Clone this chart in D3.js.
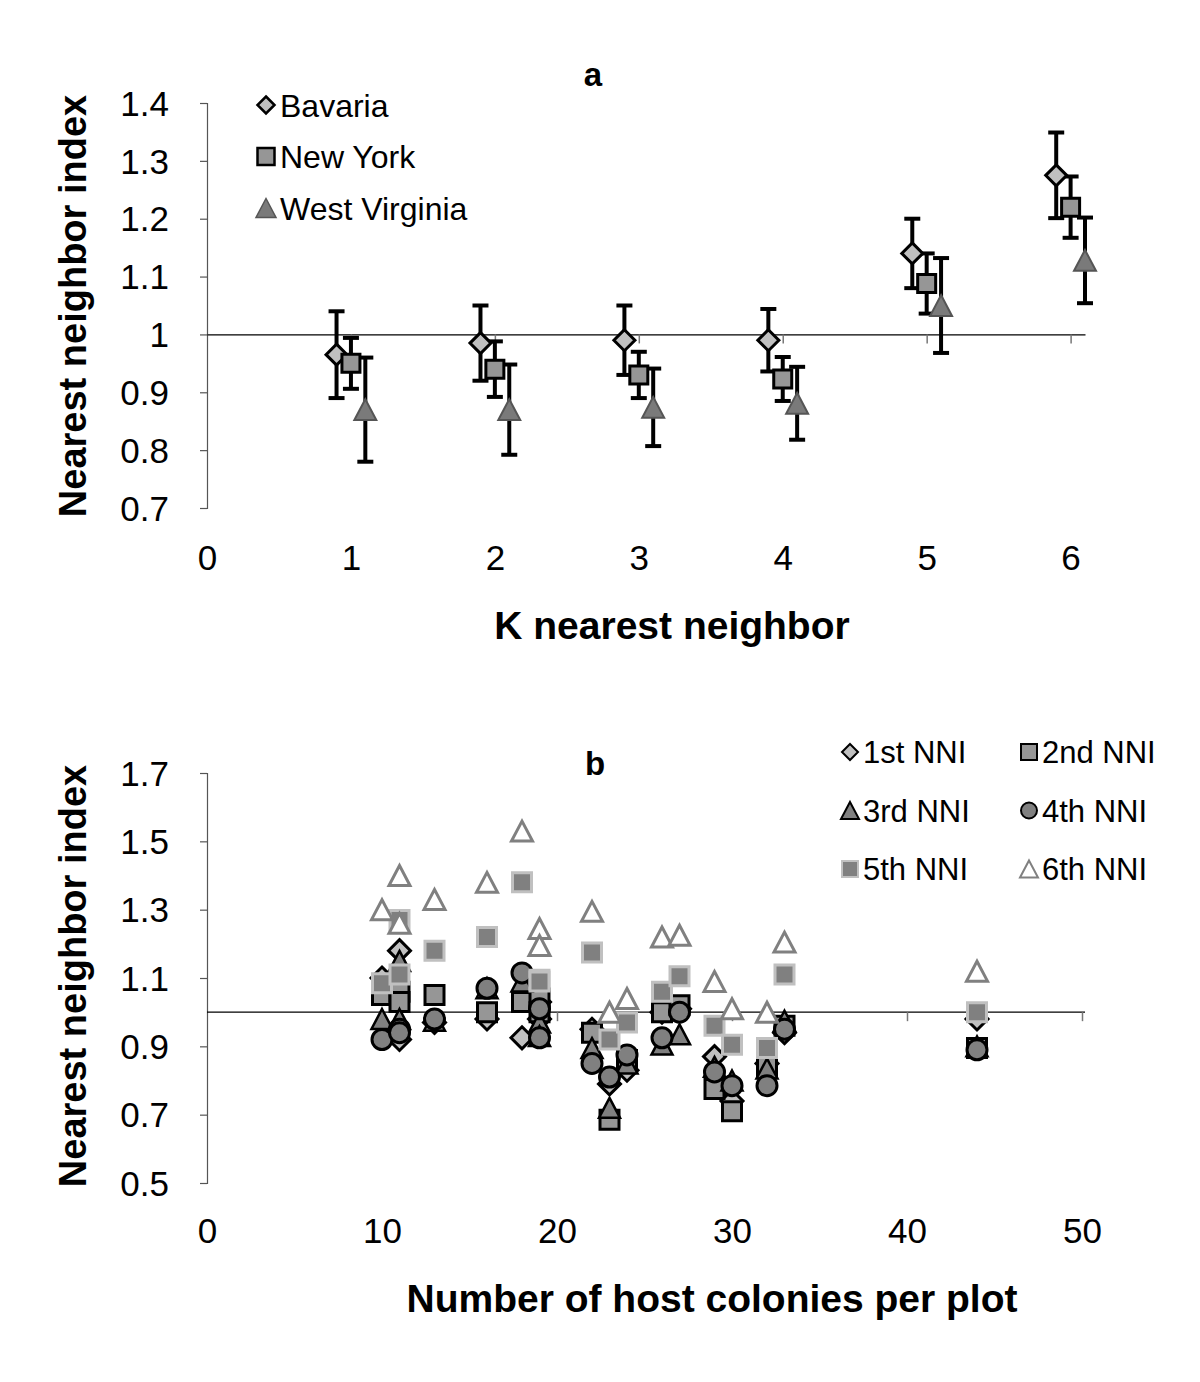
<!DOCTYPE html>
<html><head><meta charset="utf-8">
<script src="https://cdn.jsdelivr.net/npm/d3@7"></script>
<style>body{margin:0;background:#fff}svg{display:block}text{font-family:"Liberation Sans",Arial,sans-serif}</style>
</head><body>
<svg id="c" width="1200" height="1382"></svg>
<script>
// ---------- Panel a data ----------
const kValues = [1, 2, 3, 4, 5, 6];
const regionNames = ["Bavaria", "New York", "West Virginia"];
const regionOffsets = [-0.1, 0, 0.1];
const bavariaMean = [0.965, 0.985, 0.99, 0.99, 1.14, 1.275];
const bavariaErr  = [0.075, 0.065, 0.06, 0.054, 0.06, 0.074];
const newYorkMean = [0.95, 0.94, 0.93, 0.923, 1.088, 1.22];
const newYorkErr  = [0.044, 0.048, 0.04, 0.038, 0.052, 0.053];
const westVirginiaMean = [0.87, 0.87, 0.874, 0.881, 1.05, 1.128];
const westVirginiaErr  = [0.09, 0.078, 0.067, 0.063, 0.082, 0.074];
const aXTicks = [0, 1, 2, 3, 4, 5, 6];
const aYTicks = [0.7, 0.8, 0.9, 1.0, 1.1, 1.2, 1.3, 1.4];

// ---------- Panel b data ----------
const hostColonies = [10, 11, 11, 13, 16, 18, 19, 19, 22, 23, 24, 26, 27, 29, 30, 32, 33, 44];
const nniNames = ["1st NNI", "2nd NNI", "3rd NNI", "4th NNI", "5th NNI", "6th NNI"];
const nni1 = [1.10, 1.18, 0.92, 0.97, 0.98, 0.925, 1.03, 0.98, 0.95, 0.79, 0.83, 1.00, 1.01, 0.87, 0.74, 0.85, 0.94, 0.98];
const nni2 = [1.05, 1.06, 1.03, 1.05, 1.00, 1.03, 1.04, 1.00, 0.94, 0.685, 0.86, 1.00, 1.02, 0.775, 0.71, 0.84, 0.96, 0.895];
const nni3 = [0.98, 1.15, 0.98, 0.975, 1.07, 1.09, 0.97, 0.93, 0.895, 0.72, 0.85, 0.905, 0.935, 0.84, 0.80, 0.835, 0.975, 0.90];
const nni4 = [0.92, 0.95, 0.94, 0.98, 1.07, 1.115, 0.925, 1.01, 0.85, 0.81, 0.875, 0.925, 1.00, 0.825, 0.785, 0.785, 0.95, 0.89];
const nni5 = [1.085, 1.27, 1.11, 1.18, 1.22, 1.38, 1.095, 1.09, 1.175, 0.92, 0.97, 1.06, 1.105, 0.96, 0.905, 0.895, 1.11, 1.00];
const nni6 = [1.30, 1.40, 1.26, 1.33, 1.38, 1.53, 1.245, 1.195, 1.295, 1.00, 1.04, 1.22, 1.225, 1.09, 1.01, 1.00, 1.205, 1.12];
const bXTicks = [0, 10, 20, 30, 40, 50];
const bYTicks = [0.5, 0.7, 0.9, 1.1, 1.3, 1.5, 1.7];

// ---------- helpers ----------
const svg = d3.select("#c");
function shapePath(type, s) {
  const h = s / 2;
  if (type === "diamond") return `M0,${-h}L${h},0L0,${h}L${-h},0Z`;
  if (type === "square") return `M${-h},${-h}H${h}V${h}H${-h}Z`;
  if (type === "triangle") { const t = h * 0.95; return `M0,${-t}L${h},${t}L${-h},${t}Z`; }
  if (type === "circle") return `M${h},0A${h},${h} 0 1,1 ${-h},0A${h},${h} 0 1,1 ${h},0Z`;
}
function styleAxis(g) {
  g.selectAll("path.domain").attr("stroke", "#555").attr("stroke-width", 1.2);
  g.selectAll(".tick line").attr("stroke", "#555").attr("stroke-width", 1.2);
  g.selectAll("text").attr("font-size", 35).attr("fill", "#000").attr("font-family", "Liberation Sans, Arial, sans-serif");
}

// ================= Panel a =================
const xa = d3.scaleLinear().domain([0, 6.1]).range([207, 1085]);
const ya = d3.scaleLinear().domain([0.7, 1.4]).range([508, 103]);

const gaY = svg.append("g").attr("transform", `translate(${xa(0)},0)`)
  .call(d3.axisLeft(ya).tickValues(aYTicks).tickSize(7).tickPadding(31)
    .tickFormat(d => d === 1 ? "1" : d3.format(".1f")(d)));
styleAxis(gaY);
gaY.selectAll("text").attr("dy", "0.35em");

const gaRef = svg.append("g").attr("transform", `translate(0,${ya(1)})`)
  .call(d3.axisBottom(xa).tickValues(kValues).tickSize(9).tickFormat("").tickSizeOuter(0));
gaRef.selectAll("path.domain").attr("stroke", "#000").attr("stroke-width", 1.2);
gaRef.selectAll(".tick line").attr("stroke", "#777").attr("stroke-width", 1.5);

const gaX = svg.append("g").attr("transform", `translate(0,557)`)
  .call(d3.axisBottom(xa).tickValues(aXTicks).tickSize(0).tickPadding(0).tickFormat(d3.format("d")));
gaX.select("path.domain").remove();
styleAxis(gaX);
gaX.selectAll("text").attr("dy", "0.36em");

const regions = [
  {name: regionNames[0], mean: bavariaMean, err: bavariaErr, off: regionOffsets[0], shape: "diamond", size: 21, fill: "#c0c0c0", stroke: "#000", sw: 3},
  {name: regionNames[1], mean: newYorkMean, err: newYorkErr, off: regionOffsets[1], shape: "square", size: 18, fill: "#969696", stroke: "#000", sw: 3},
  {name: regionNames[2], mean: westVirginiaMean, err: westVirginiaErr, off: regionOffsets[2], shape: "triangle", size: 22, fill: "#7a7a7a", stroke: "#555", sw: 2}
];

regions.forEach(r => {
  const g = svg.append("g");
  kValues.forEach((k, i) => {
    const cx = xa(k + r.off), top = ya(r.mean[i] + r.err[i]), bot = ya(r.mean[i] - r.err[i]);
    g.append("line").attr("x1", cx).attr("x2", cx).attr("y1", top).attr("y2", bot).attr("stroke", "#000").attr("stroke-width", 4);
    [top, bot].forEach(yy => g.append("line").attr("x1", cx - 8).attr("x2", cx + 8).attr("y1", yy).attr("y2", yy).attr("stroke", "#000").attr("stroke-width", 4));
  });
});
regions.forEach(r => {
  svg.append("g").selectAll("path").data(kValues).join("path")
    .attr("d", shapePath(r.shape, r.size))
    .attr("transform", (k, i) => `translate(${xa(k + r.off)},${ya(r.mean[i])})`)
    .attr("fill", r.fill).attr("stroke", r.stroke).attr("stroke-width", r.sw);
});

// legend a
regions.forEach((r, i) => {
  const y = 105 + i * 51.5;
  svg.append("path").attr("d", shapePath(r.shape, r.shape === "triangle" ? 20 : 17))
    .attr("transform", `translate(266,${y})`).attr("fill", r.fill).attr("stroke", r.stroke).attr("stroke-width", r.shape === "triangle" ? 1.5 : 2.5);
  svg.append("text").attr("x", 280).attr("y", y).attr("dy", "0.36em").attr("font-size", 32).text(r.name);
});

svg.append("text").attr("x", 593).attr("y", 86).attr("text-anchor", "middle").attr("font-size", 33).attr("font-weight", "bold").text("a");
svg.append("text").attr("transform", `translate(86,306) rotate(-90)`).attr("text-anchor", "middle")
  .attr("font-size", 38).attr("font-weight", "bold").text("Nearest neighbor index");
svg.append("text").attr("x", 672).attr("y", 639).attr("text-anchor", "middle").attr("font-size", 39).attr("font-weight", "bold").text("K nearest neighbor");

// ================= Panel b =================
const xb = d3.scaleLinear().domain([0, 50]).range([207, 1082]);
const yb = d3.scaleLinear().domain([0.5, 1.7]).range([1183, 773]);

const gbY = svg.append("g").attr("transform", `translate(${xb(0)},0)`)
  .call(d3.axisLeft(yb).tickValues(bYTicks).tickSize(7).tickPadding(31).tickFormat(d3.format(".1f")));
styleAxis(gbY);
gbY.selectAll("text").attr("dy", "0.35em");

const gbRef = svg.append("g").attr("transform", `translate(0,${yb(1)})`)
  .call(d3.axisBottom(xb).tickValues(bXTicks.slice(1)).tickSize(9).tickFormat("").tickSizeOuter(0));
gbRef.select("path.domain").attr("d", `M${xb(0)},0H1085`).attr("stroke", "#000").attr("stroke-width", 1.2);
gbRef.selectAll(".tick line").attr("stroke", "#777").attr("stroke-width", 1.5);

const gbX = svg.append("g").attr("transform", `translate(0,1230)`)
  .call(d3.axisBottom(xb).tickValues(bXTicks).tickSize(0).tickPadding(0).tickFormat(d3.format("d")));
gbX.select("path.domain").remove();
styleAxis(gbX);
gbX.selectAll("text").attr("dy", "0.36em");

const nniSeries = [
  {name: nniNames[0], vals: nni1, shape: "diamond", size: 22, fill: "#c0c0c0", stroke: "#000", sw: 3},
  {name: nniNames[1], vals: nni2, shape: "square", size: 19, fill: "#969696", stroke: "#000", sw: 3},
  {name: nniNames[2], vals: nni3, shape: "triangle", size: 21, fill: "#808080", stroke: "#000", sw: 2.5},
  {name: nniNames[3], vals: nni4, shape: "circle", size: 20, fill: "#808080", stroke: "#000", sw: 3},
  {name: nniNames[4], vals: nni5, shape: "square", size: 19, fill: "#808080", stroke: "#c0c0c0", sw: 3},
  {name: nniNames[5], vals: nni6, shape: "triangle", size: 21, fill: "#fff", stroke: "#808080", sw: 3}
];
nniSeries.forEach(s => {
  svg.append("g").selectAll("path").data(s.vals).join("path")
    .attr("d", shapePath(s.shape, s.size))
    .attr("transform", (v, i) => `translate(${xb(hostColonies[i])},${yb(v)})`)
    .attr("fill", s.fill).attr("stroke", s.stroke).attr("stroke-width", s.sw);
});

// legend b
nniSeries.forEach((s, i) => {
  const col = i % 2, row = Math.floor(i / 2);
  const mx = col === 0 ? 850 : 1029, y = 752 + row * 58.5;
  svg.append("path").attr("d", shapePath(s.shape, s.shape === "triangle" ? 18 : 16))
    .attr("transform", `translate(${mx},${y})`).attr("fill", s.fill).attr("stroke", s.stroke).attr("stroke-width", 2);
  svg.append("text").attr("x", mx + 13).attr("y", y).attr("dy", "0.36em").attr("font-size", 31).text(s.name);
});

svg.append("text").attr("x", 595).attr("y", 775).attr("text-anchor", "middle").attr("font-size", 33).attr("font-weight", "bold").text("b");
svg.append("text").attr("transform", `translate(86,976) rotate(-90)`).attr("text-anchor", "middle")
  .attr("font-size", 38).attr("font-weight", "bold").text("Nearest neighbor index");
svg.append("text").attr("x", 712).attr("y", 1312).attr("text-anchor", "middle").attr("font-size", 39).attr("font-weight", "bold").text("Number of host colonies per plot");
</script>
</body></html>
